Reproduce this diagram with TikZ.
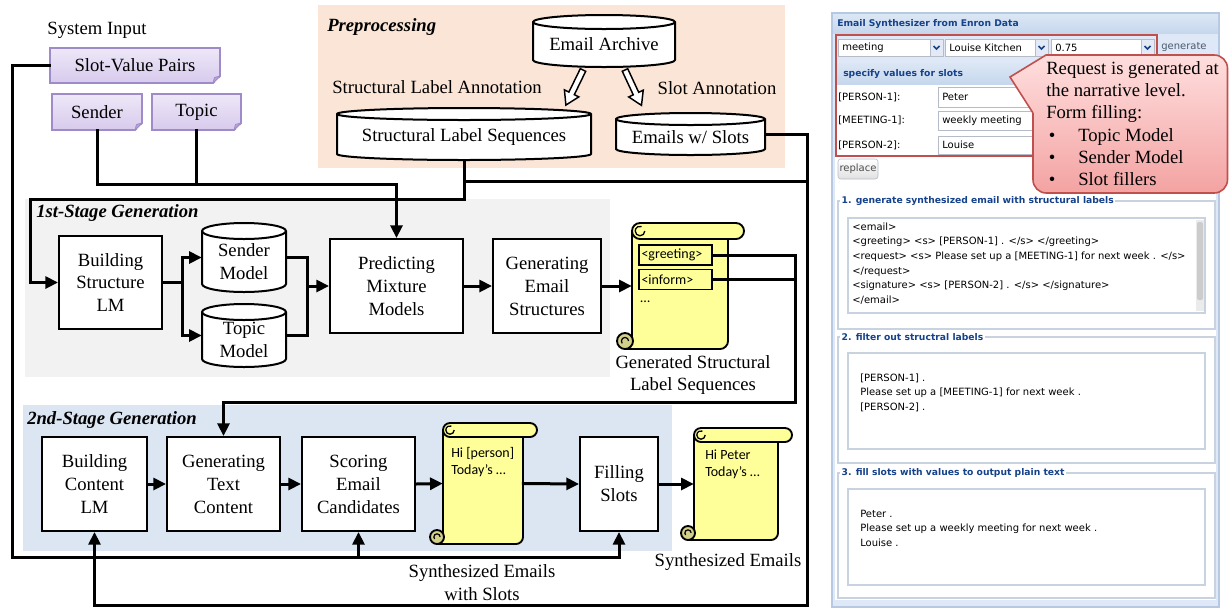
\documentclass[tikz,border=0pt]{standalone}
\usepackage{fontspec}
\setmainfont{Liberation Serif}
\newfontfamily\uifont{DejaVu Sans}
\newfontfamily\calfont{Carlito}
\usetikzlibrary{arrows.meta}
\definecolor{peach}{HTML}{FBE5D6}
\definecolor{stagegray}{HTML}{F2F2F2}
\definecolor{stageblue}{HTML}{DCE6F2}
\definecolor{notetop}{HTML}{EEE8F8}
\definecolor{notebot}{HTML}{D7CAEC}
\definecolor{noteline}{HTML}{9F8BC9}
\definecolor{notefold}{HTML}{B9A6DC}
\definecolor{scrollyellow}{HTML}{FFFF99}
\definecolor{scrollcurl}{HTML}{D3D08A}
\definecolor{uiblue}{HTML}{15428B}
\definecolor{uibg}{HTML}{DFE8F6}
\definecolor{uiframe}{HTML}{B7C9E2}
\definecolor{uibartop}{HTML}{DCE7F5}
\definecolor{uibarbot}{HTML}{C6D7ED}
\definecolor{uiline}{HTML}{C9D3E0}
\definecolor{uiinput}{HTML}{B5BCC7}
\definecolor{uibtn}{HTML}{E3EAF5}
\definecolor{uigray}{HTML}{4A5A6E}
\definecolor{calloutline}{HTML}{C0504D}
\definecolor{callouttop}{HTML}{FFDEDE}
\definecolor{calloutbot}{HTML}{F3A3A2}
\definecolor{redframe}{HTML}{C0504D}
\newcommand\mainsz{\fontsize{14pt}{17.2pt}\selectfont}
\newcommand\uisz{\uifont\fontsize{7.5pt}{10.95pt}\selectfont}
\newcommand\uibsz{\uifont\bfseries\fontsize{6.9pt}{9pt}\selectfont}
\newcommand\calsz{\calfont\fontsize{10.5pt}{12.8pt}\selectfont}
\newcommand\bx[6]{\node[procbox,minimum width={(#4-#2)*0.75pt},minimum height={(#5-#3)*0.75pt}] (#1) at ({(#2+#4)/2},{(#3+#5)/2}) {#6};}
\newcommand\cyl[7]{%
  \draw[cylsty] (#2,#3+#6) -- (#2,#5-#6) arc[start angle=180,end angle=0,x radius={(#4-#2)/2},y radius=#6] -- (#4,#3+#6) arc[start angle=0,end angle=-180,x radius={(#4-#2)/2},y radius=#6] -- cycle;
  \draw[cylsty,fill=none] (#2,#3+#6) arc[start angle=180,end angle=0,x radius={(#4-#2)/2},y radius=#6];
  \node[inner sep=0pt,minimum width={(#4-#2)*0.75pt},minimum height={(#5-#3)*0.75pt}] (#1) at ({(#2+#4)/2},{(#3+#5)/2}) {};
  \node[align=center,font=\mainsz,inner sep=0pt] (#1-t) at ({(#2+#4)/2},{(#3+#5)/2+#6/2}) {#7};
}
\newcommand\notebox[6]{%
  \node[notesty,minimum width={(#4-#2)*0.75pt},minimum height={(#5-#3)*0.75pt}] (#1) at ({(#2+#4)/2},{(#3+#5)/2}) {#6};
  \fill[white] (#4-7,#5+1.5) -- (#4+1.5,#5+1.5) -- (#4+1.5,#5-7) -- cycle;
  \draw[noteline,fill=notefold,line width=0.6pt,line join=round] (#4-7,#5) -- (#4,#5-7) -- (#4-5.5,#5-5.5) -- cycle;
}
\newcommand\scrollshape[7]{%
  \draw[scrollsty] (#2,#4+#6) -- (#2,#5-#6) -- (#2-#6+1,#5-#6) -- (#2-#6+1,#5) -- (#3-#6,#5) arc[start angle=90,end angle=0,radius=#6] -- (#3,#4+#6) -- cycle;
  \draw[scrollsty,rounded corners=#7] (#2,#4) rectangle (#3+2*#6,#4+2*#6);
  \draw[scrollsty,fill=none,line width=1pt] (#2+1.6*#6,#4+#6) arc[start angle=0,end angle=290,radius=0.6*#6];
  \draw[scrollsty,fill=scrollcurl] (#2-#6+1,#5-#6) circle[radius=#6];
  \draw[line width=0.9pt] (#2-#6+1+0.45*#6,#5-#6) arc[start angle=0,end angle=-220,radius=0.45*#6];
  \node[inner sep=0pt,minimum width={(#3-#2)*0.75pt},minimum height={(#5-#4)*0.75pt}] (#1) at ({(#2+#3)/2},{(#4+#5)/2}) {};
}
\newcommand\uidd[6]{%
  \draw[uiinput,fill=white,line width=0.6pt] (#2,#3) rectangle (#4,#5);
  \fill[uibtn] (#4-13,#3+0.5) rectangle (#4-0.5,#5-0.5);
  \draw[uiinput,line width=0.6pt] (#4-13,#3) -- (#4-13,#5);
  \draw[uiblue,line width=1.1pt] (#4-9.5,{(#3+#5)/2-1.5}) -- (#4-6.5,{(#3+#5)/2+1.5}) -- (#4-3.5,{(#3+#5)/2-1.5});
  \node[anchor=west,font=\uisz,inner sep=0pt] (#1) at (#2+4,{(#3+#5)/2}) {#6};
}
\newcommand\uifset[4]{%
  \draw[uiline,line width=0.8pt] (838,#2) rectangle (1215,#3);
  \node[anchor=west,font=\uibsz,text=uiblue,fill=white,inner sep=1pt] (#1) at (840,#2) {#4};
}
\begin{document}
\begin{tikzpicture}[x=0.75pt,y=-0.75pt,
  procbox/.style={draw,line width=1.5pt,fill=white,align=center,font=\mainsz,inner sep=1pt},
  cylsty/.style={draw,line width=1.5pt,fill=white},
  notesty/.style={draw=noteline,line width=0.8pt,top color=notetop,bottom color=notebot,font=\mainsz,inner sep=0pt},
  scrollsty/.style={draw,line width=1.4pt,fill=scrollyellow,line join=round},
  conn/.style={line width=2.25pt,line cap=rect},
  arr/.style={conn,-{Triangle[length=9.5pt,width=9pt]}},
  lbl/.style={font=\mainsz,align=center,inner sep=0pt},
  stagelbl/.style={font=\mainsz\bfseries\itshape,anchor=west,inner sep=0pt},
  tagbox/.style={draw,line width=1.4pt,fill=scrollyellow,font=\calsz,anchor=center,inner sep=2pt,text width=51pt,minimum height=15pt}]
\useasboundingbox (0,0) rectangle (1229,608);
\fill[white] (0,0) rectangle (1229,608);
% regions
\fill[peach] (318,5) rectangle (785,168);
\fill[stagegray] (25,199) rectangle (610,377);
\fill[stageblue] (23,405) rectangle (672,551);
\node[stagelbl] (lpre) at (327,27) {Preprocessing};
\node[stagelbl] (l1) at (36,213) {1st-Stage Generation};
\node[stagelbl] (l2) at (27,420) {2nd-Stage Generation};
% inputs
\node[lbl] (sysin) at (97,30) {System Input};
\notebox{svp}{50}{48}{220}{83}{Slot-Value Pairs}
\notebox{sendr}{52}{94}{142}{130}{Sender}
\notebox{topicn}{152}{94}{241}{130}{Topic}
% preprocessing
\cyl{ea}{533}{15}{675}{67}{7}{Email Archive}
\cyl{sls}{337}{108}{591}{160}{6}{Structural Label Sequences}
\cyl{ews}{616}{113}{765}{155}{6}{Emails w/ Slots}
\node[lbl] (lsla) at (437,87) {Structural Label Annotation};
\node[lbl] (lsa) at (717,88) {Slot Annotation};
\begin{scope}[shift={(583,70)},rotate=244]
  \draw[line width=1.1pt,fill=white] (0,-3) -- (26,-3) -- (26,-8) -- (39,0) -- (26,8) -- (26,3) -- (0,3) -- cycle;
\end{scope}
\begin{scope}[shift={(625,70)},rotate=295]
  \draw[line width=1.1pt,fill=white] (0,-3) -- (26,-3) -- (26,-8) -- (39,0) -- (26,8) -- (26,3) -- (0,3) -- cycle;
\end{scope}
% stage 1
\bx{bslm}{59}{236}{162}{329}{Building\\Structure\\LM}
\cyl{sm}{202}{223}{286}{292}{8}{Sender\\Model}
\cyl{tm}{202}{304}{286}{367}{8}{Topic\\Model}
\bx{pmm}{330}{239}{463}{333}{Predicting\\Mixture\\Models}
\bx{ges}{493}{239}{601}{333}{Generating\\Email\\Structures}
\scrollshape{scroll1}{632}{728}{223}{349}{8}{6pt}
\node[tagbox] (greet) at (675.5,255) {<greeting>};
\node[tagbox] (inform) at (675.5,279.5) {<inform>};
\node[font=\calsz,anchor=west,inner sep=0pt] (dots1) at (640,302) {…};
\node[lbl] (lgen) at (693,375) {Generated Structural\\Label Sequences};
% stage 2
\bx{bclm}{42}{437}{147}{531}{Building\\Content\\LM}
\bx{gtc}{167}{437}{280}{531}{Generating\\Text\\Content}
\bx{scoring}{302}{437}{415}{531}{Scoring\\Email\\Candidates}
\scrollshape{scroll2}{443}{523}{423}{544}{7}{5.25pt}
\node[font=\calsz,align=left,anchor=north west,inner sep=0pt] (s2t) at (451,447) {Hi [person]\\Today’s …};
\bx{fillslots}{580}{437}{658}{531}{Filling\\Slots}
\scrollshape{scroll3}{694}{778}{428}{540}{7}{5.25pt}
\node[font=\calsz,align=left,anchor=north west,inner sep=0pt] (s3t) at (705,450) {Hi Peter\\Today’s …};
\node[lbl] (lswes) at (482,583) {Synthesized Emails\\with Slots};
\node[lbl] (lse) at (728,562) {Synthesized Emails};
% connectors
\draw[arr] (svp.west) -| (12,557) -| (fillslots.south);
\draw[arr] (scoring.south |- 0,557) -- (scoring.south);
\draw[conn] (topicn.south) -- (topicn.south |- 0,184);
\draw[arr] (sendr.south) |- (pmm.north |- 0,184) -- (pmm.north);
\draw[arr] (sls.south) |- (30,199) |- (bslm.west);
\draw[conn] (sls.south |- 0,181) -- (807,181);
\draw[arr] (ews.east) -| (807,605) -| (bclm.south);
\draw[arr] (bslm.east) -- ++(19,0) |- (sm.west);
\draw[arr] (bslm.east) -- ++(19,0) |- (tm.west);
\coordinate (mj) at (307,286);
\draw[conn] (sm.east) -| (mj);
\draw[conn] (tm.east) -| (mj);
\draw[arr] (mj) -- (pmm.west);
\draw[arr] (pmm.east) -- (ges.west);
\draw[arr] (ges.east) -- (scroll1.west);
\draw[conn] (inform.east) -- (inform.east -| 795,0);
\draw[arr] (greet.east) -| (795,402) -| (gtc.north);
\draw[arr] (bclm.east) -- (gtc.west);
\draw[arr] (gtc.east) -- (scoring.west);
\draw[arr] (scoring.east) -- (scroll2.west);
\draw[arr] (scroll2.east) -- (fillslots.west);
\draw[arr] (fillslots.east) -- (scroll3.west);
% ================= right panel
\fill[uiframe] (831,12) rectangle (1220,608);
\fill[uibg] (833,14) rectangle (1218,606);
\fill[top color=uibartop,bottom color=uibarbot] (833,14) rectangle (1218,33);
\node[anchor=west,font=\uibsz,text=uiblue,inner sep=0pt] (ptitle) at (837,23.5) {Email Synthesizer from Enron Data};
\fill[white] (835,84) rectangle (1216,600);
\fill[top color=uibartop,bottom color=uibarbot] (835,63) rectangle (1216,84);
\node[anchor=west,font=\uibsz,text=uiblue,inner sep=0pt] (spec) at (843,74) {specify values for slots};
\uidd{dd1}{838}{39}{943}{56}{meeting}
\uidd{dd2}{945}{39}{1048}{56}{Louise Kitchen}
\uidd{dd3}{1051}{39}{1154}{56}{0.75}
\node[anchor=west,font=\uisz,text=uigray,inner sep=0pt] (gen) at (1161,47.5) {generate};
\node[anchor=west,font=\uisz,inner sep=0pt] (r1) at (838,97) {[PERSON-1]:};
\node[anchor=west,font=\uisz,inner sep=0pt] (r2) at (838,120.5) {[MEETING-1]:};
\node[anchor=west,font=\uisz,inner sep=0pt] (r3) at (838,145) {[PERSON-2]:};
\draw[uiinput,fill=white,line width=0.6pt] (938,87) rectangle (1150,107);
\draw[uiinput,fill=white,line width=0.6pt] (938,111) rectangle (1150,130);
\draw[uiinput,fill=white,line width=0.6pt] (938,136) rectangle (1150,154);
\node[anchor=west,font=\uisz,inner sep=0pt] (v1) at (942,97) {Peter};
\node[anchor=west,font=\uisz,inner sep=0pt] (v2) at (942,120.5) {weekly meeting};
\node[anchor=west,font=\uisz,inner sep=0pt] (v3) at (942,145) {Louise};
\draw[redframe,line width=1.6pt] (836,35) rectangle (1157,156);
\draw[uiinput,top color=white,bottom color=black!12,rounded corners=2pt] (838,159) rectangle (878,179);
\node[font=\uisz,text=black!70,inner sep=0pt] (repl) at (858,169) {replace};
% fieldsets
\uifset{h1}{201}{329}{1. generate synthesized email with structural labels}
\draw[uiline,line width=0.8pt,fill=white] (848,218) rectangle (1205,313);
\fill[black!8] (1196,220) rectangle (1204,311);
\fill[black!20,rounded corners=1.5pt] (1197,222) rectangle (1203,300);
\node[anchor=north west,align=left,font=\uisz,inner sep=0pt] (t1) at (852,222.5) {<email>\\<greeting> <s> [PERSON-1] . </s> </greeting>\\<request> <s> Please set up a [MEETING-1] for next week . </s>\\</request>\\<signature> <s> [PERSON-2] . </s> </signature>\\</email>};
\uifset{h2}{337}{463}{2. filter out structral labels}
\draw[uiline,line width=0.8pt,fill=white] (848,353) rectangle (1205,449);
\node[anchor=north west,align=left,font=\uisz,inner sep=0pt] (t2) at (860,373.5) {[PERSON-1] .\\Please set up a [MEETING-1] for next week .\\{}[PERSON-2] .};
\uifset{h3}{473}{598}{3. fill slots with values to output plain text}
\draw[uiline,line width=0.8pt,fill=white] (848,489) rectangle (1205,585);
\node[anchor=north west,align=left,font=\uisz,inner sep=0pt] (t3) at (860,509.5) {Peter .\\Please set up a weekly meeting for next week .\\Louise .};
% callout
\path[draw=calloutline,line width=1.2pt,top color=callouttop,bottom color=calloutbot] (1033,113) -- (1010,77) -- (1046,55) [rounded corners=10pt] -- (1227.5,55) -- (1227.5,193) -- (1033,193) -- (1033,113);
\node[anchor=north west,align=left,font=\fontsize{14pt}{16.7pt}\selectfont,inner sep=0pt] (ctext) at (1046,61) {Request is generated at\\the narrative level.\\Form filling:\\\makebox[24pt][l]{\hspace{2pt}\textbullet}Topic Model\\\makebox[24pt][l]{\hspace{2pt}\textbullet}Sender Model\\\makebox[24pt][l]{\hspace{2pt}\textbullet}Slot fillers};
\end{tikzpicture}
\end{document}
